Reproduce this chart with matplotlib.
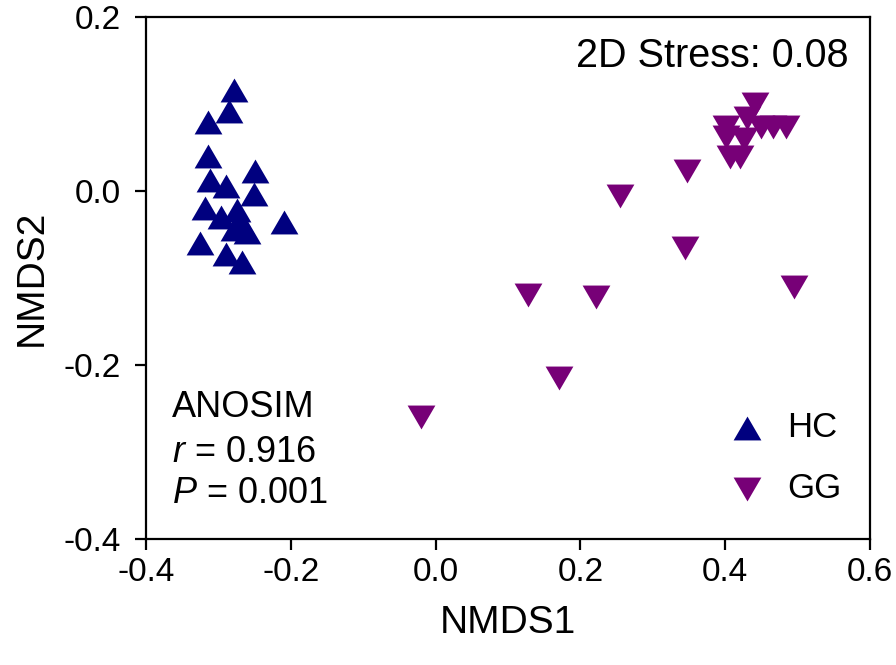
import numpy as np
import matplotlib.pyplot as plt

plt.rcParams['font.family'] = ['Liberation Sans', 'DejaVu Sans']
plt.rcParams['mathtext.fontset'] = 'custom'
plt.rcParams['mathtext.it'] = 'Liberation Sans:italic'
plt.rcParams['mathtext.rm'] = 'Liberation Sans'

# NMDS coordinates
hc_x = [-0.279, -0.285, -0.314, -0.314, -0.312, -0.290, -0.249, -0.251, -0.319,
        -0.297, -0.274, -0.269, -0.279, -0.261, -0.209, -0.325, -0.290, -0.267]
hc_y = [0.116, 0.092, 0.079, 0.040, 0.013, 0.006, 0.023, -0.004, -0.020,
        -0.030, -0.022, -0.037, -0.044, -0.047, -0.036, -0.060, -0.072, -0.082]

gg_x = [0.441, 0.430, 0.401, 0.484, 0.466, 0.450, 0.401, 0.426, 0.406,
        0.421, 0.347, 0.255, 0.344, 0.495, 0.127, 0.221, 0.171, -0.020]
gg_y = [0.100, 0.084, 0.074, 0.074, 0.073, 0.074, 0.062, 0.060, 0.039,
        0.039, 0.023, -0.006, -0.065, -0.110, -0.119, -0.122, -0.215, -0.260]

x_ticks = [-0.4, -0.2, 0.0, 0.2, 0.4, 0.6]
y_ticks = [-0.4, -0.2, 0.0, 0.2]

hc_color = '#00007f'
gg_color = '#770077'

# slightly flattened triangles
tri_up = [(0, 0.86), (-1, -0.86), (1, -0.86)]
tri_down = [(0, -0.86), (-1, 0.86), (1, 0.86)]

fig = plt.figure(figsize=(8.96, 6.65), dpi=100)
ax = fig.add_axes([146 / 896, 126 / 665, 724 / 896, 522 / 665])

ms = 20
ax.scatter(hc_x, hc_y, marker=tri_up, s=ms**2, color=hc_color, linewidths=0, label='HC')
ax.scatter(gg_x, gg_y, marker=tri_down, s=ms**2, color=gg_color, linewidths=0, label='GG')

ax.set_xlim(-0.4, 0.6)
ax.set_ylim(-0.4, 0.2)
ax.set_xticks(x_ticks)
ax.set_yticks(y_ticks)
ax.set_xticklabels([f'{v:.1f}' for v in x_ticks])
ax.set_yticklabels([f'{v:.1f}' for v in y_ticks])

for sp in ax.spines.values():
    sp.set_linewidth(1.6)
    sp.set_color('black')
ax.tick_params(direction='out', length=8, width=1.6, labelsize=24, pad=5)
ax.tick_params(axis='y', pad=10)

ax.set_xlabel('NMDS1', fontsize=28, labelpad=12)
ax.set_ylabel('NMDS2', fontsize=28, labelpad=10)

ax.text(0.97, 0.925, '2D Stress: 0.08', transform=ax.transAxes, fontsize=28.5,
        ha='right', va='center')
ax.text(0.036, 0.251, 'ANOSIM', transform=ax.transAxes, fontsize=26, va='center')
ax.text(0.036, 0.165, r'$r$ = 0.916', transform=ax.transAxes, fontsize=26, va='center')
ax.text(0.036, 0.088, r'$P$ = 0.001', transform=ax.transAxes, fontsize=26, va='center')

ax.legend(loc='lower right', bbox_to_anchor=(0.96, 0.065), frameon=False,
          fontsize=25, handletextpad=0.6, labelspacing=0.8, handlelength=1.1,
          borderaxespad=0, borderpad=0)

fig.savefig('out.png', dpi=100)
